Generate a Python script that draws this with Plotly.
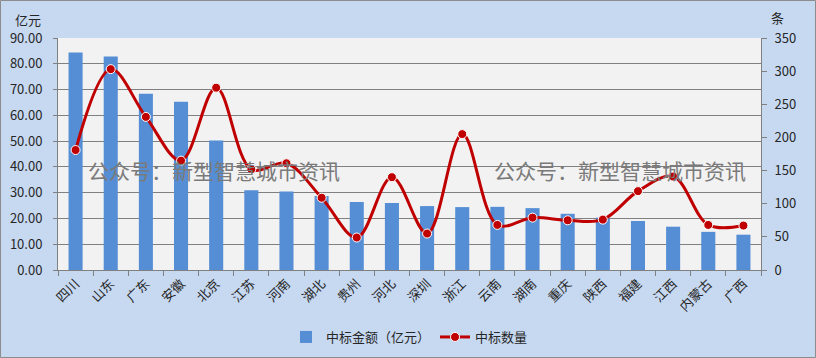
import plotly.graph_objects as go

categories = ["四川", "山东", "广东", "安徽", "北京", "江苏", "河南", "湖北", "贵州", "河北",
              "深圳", "浙江", "云南", "湖南", "重庆", "陕西", "福建", "江西", "内蒙古", "广西"]
amount = [84.4, 82.8, 68.4, 65.3, 50.2, 30.9, 30.5, 28.7, 26.4, 26.0,
          24.8, 24.4, 24.5, 24.0, 21.8, 20.3, 19.0, 16.8, 14.8, 13.7]
count = [181, 303, 231, 165, 275, 152, 161, 109, 49, 140,
         55, 205, 68, 79, 75, 76, 119, 141, 68, 67]
left_ticks = [0, 10, 20, 30, 40, 50, 60, 70, 80, 90]
right_ticks = [0, 50, 100, 150, 200, 250, 300, 350]

FONT = "Noto Sans CJK SC"
W, H = 816, 358
ML, MR, MT, MB = 58, 55, 38, 88
PW, PH = W - ML - MR, H - MT - MB


def px(x):
    return (x - ML) / PW


def py(y):
    return (H - MB - y) / PH


fig = go.Figure()
fig.add_trace(go.Bar(
    x=categories, y=amount, name="中标金额（亿元）",
    marker=dict(color="#558ed5", line=dict(width=0)), width=0.4, yaxis="y",
))
fig.add_trace(go.Scatter(
    x=categories, y=count, name="中标数量", yaxis="y2",
    mode="lines+markers", line=dict(color="#c00000", width=3, shape="spline", smoothing=1.0),
    marker=dict(color="#c00000", size=9, line=dict(color="#ffffff", width=1)),
))

fig.update_layout(
    width=W, height=H,
    margin=dict(l=ML, r=MR, t=MT, b=MB, autoexpand=False),
    paper_bgcolor="#c6d9f1", plot_bgcolor="#f2f2f2",
    font=dict(family=FONT, size=13, color="#262626"),
    showlegend=True,
    legend=dict(orientation="h", x=0.5, xanchor="center", y=py(337), yanchor="middle",
                font=dict(size=13, color="#262626"), bgcolor="rgba(0,0,0,0)"),
    xaxis=dict(
        tickangle=-45, showgrid=False, showline=True, linecolor="#808080", linewidth=1,
        ticks="outside", tickson="boundaries", ticklen=5, tickcolor="#808080",
        tickfont=dict(size=13, color="#262626"), range=[-0.5, 19.5], automargin=False,
    ),
    yaxis=dict(
        range=[0, 90], tickvals=left_ticks, tickformat=".2f",
        showgrid=True, gridcolor="#808080", gridwidth=1,
        showline=True, linecolor="#808080", linewidth=1,
        ticks="outside", ticklen=4, tickcolor="#808080", ticklabelstandoff=8,
        zeroline=False, tickfont=dict(size=13, color="#262626"), automargin=False,
    ),
    yaxis2=dict(
        range=[0, 350], tickvals=right_ticks, overlaying="y", side="right",
        showgrid=False, showline=True, linecolor="#808080", linewidth=1,
        ticks="outside", ticklen=5, tickcolor="#808080", ticklabelstandoff=5,
        zeroline=False, tickfont=dict(size=13, color="#262626"), automargin=False,
    ),
    shapes=[dict(type="rect", xref="paper", yref="paper",
                 x0=px(0.5), x1=px(W - 0.5), y0=py(H - 0.5), y1=py(0.5),
                 line=dict(color="#8c8c8c", width=1), layer="below")],
)

annotations = [
    dict(text="亿元", x=px(28), y=py(19)),
    dict(text="条", x=px(777), y=py(18)),
]
for a in annotations:
    fig.add_annotation(xref="paper", yref="paper", xanchor="center", yanchor="middle",
                       showarrow=False, font=dict(size=13, color="#262626"), **a)

for cx in (214, 620):
    fig.add_annotation(text="公众号：新型智慧城市资讯", xref="paper", yref="paper",
                       x=px(cx), y=py(170), xanchor="center", yanchor="middle",
                       showarrow=False, font=dict(size=21, color="#7a7a7a", family=FONT))

fig.write_html("out.html", config={"displayModeBar": False},
               post_script="document.body.style.margin='0';document.body.style.overflow='hidden';")
